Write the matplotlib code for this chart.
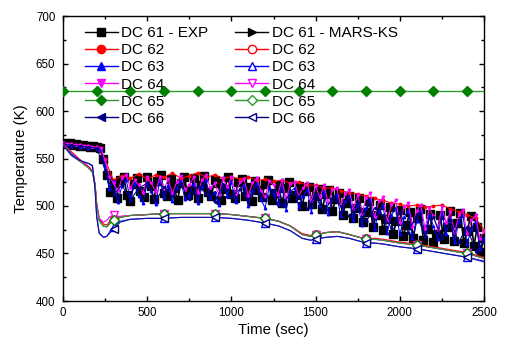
import numpy as np
import matplotlib
matplotlib.use("Agg")
import matplotlib.pyplot as plt
from matplotlib.lines import Line2D
from matplotlib.ticker import MultipleLocator

plt.rcParams['font.family'] = ['Liberation Sans', 'DejaVu Sans']

# ---------------- data ----------------
# Experimental series (EXP), evenly sampled over 0-2500 s
dc61_exp = [566, 565, 566, 564, 565, 563, 564, 563, 562, 563, 562, 561,
            550, 533, 515, 524, 508, 527, 531, 512, 505, 523,
            529, 516, 509, 530, 521, 507, 526, 533, 514, 511,
            528, 519, 506, 524, 531, 512, 517, 529, 508, 522,
            532, 515, 510, 527, 524, 506, 518, 530, 513, 508,
            525, 528, 511, 520, 505, 526, 517, 509, 523, 527,
            506, 514, 522, 503, 519, 525, 508, 512, 521, 500,
            516, 520, 502, 510, 518, 497, 513, 517, 495, 507,
            514, 491, 503, 511, 487, 498, 508, 483, 494, 505,
            478, 490, 501, 475, 486, 499, 470, 484, 496, 468,
            480, 494, 466, 487, 497, 464, 476, 492, 462, 470,
            490, 465, 478, 495, 463, 482, 493, 461, 474, 489,
            458, 478, 452, 466]

dc62_exp = [566, 565, 564, 563, 562,
            549, 527, 532, 529, 534, 528, 533, 530, 535, 529,
            532, 535, 530, 533, 529, 531, 528, 531, 527, 528,
            526, 527, 524, 525, 522, 522, 519, 519, 516, 514,
            513, 510, 508, 506, 503, 502, 500, 501, 499, 500,
            501, 497, 494, 491, 487, 475]

dc63_exp = [564, 565, 563, 564, 562, 563, 561, 562, 560, 559,
            542, 518, 526, 504, 521, 528, 506, 524, 510, 503,
            525, 516, 502, 527, 509, 522, 505, 519, 526, 507,
            512, 524, 503, 520, 527, 508, 515, 501, 523, 511,
            525, 504, 518, 522, 500, 516, 524, 507, 498, 520,
            513, 502, 521, 496, 515, 519, 499, 510, 517, 494,
            513, 500, 516, 492, 508, 512, 489, 505, 510, 485,
            503, 480, 498, 507, 476, 495, 501, 472, 490, 498,
            470, 488, 495, 466, 484, 496, 468, 491, 479, 465,
            493, 471, 487, 462, 483, 490, 460, 476, 484, 455,
            466]

dc64_exp = [566, 565, 565, 564, 564, 563, 563, 562, 562, 561,
            548, 531, 524, 516, 529, 533, 519, 527, 522, 514,
            530, 524, 515, 531, 518, 528, 513, 525, 532, 517,
            522, 530, 514, 527, 533, 519, 524, 512, 529, 520,
            530, 513, 525, 528, 511, 524, 529, 516, 509, 526,
            522, 512, 527, 508, 523, 525, 510, 519, 524, 505,
            521, 509, 522, 503, 517, 519, 500, 513, 517, 497,
            512, 492, 508, 514, 488, 505, 509, 484, 501, 506,
            482, 499, 503, 478, 495, 501, 476, 498, 489, 475,
            499, 482, 494, 472, 490, 496, 470, 485, 490, 465,
            474]

dc65_exp_t = [0, 200, 400, 600, 800, 1000, 1200, 1400, 1600, 1800, 2000, 2200, 2400, 2500]
dc65_exp = [621, 621, 621, 621, 621, 621, 621, 621, 621, 621, 621, 621, 621, 621]

dc66_exp = [565, 564, 563, 562, 561,
            538, 512, 522, 506, 519, 524, 505, 520, 510, 523,
            507, 521, 513, 504, 522, 509, 518, 503, 520, 506,
            517, 500, 514, 510, 497, 512, 494, 508, 500, 489,
            504, 484, 498, 490, 477, 494, 472, 491, 468, 488,
            466, 485, 462, 478, 452, 462]

# MARS-KS calculations
t_mars = [0, 50, 100, 150, 175, 190, 200, 215, 240, 260,
          280, 300, 340, 400, 500, 600, 700, 800, 900, 1000,
          1100, 1200, 1280, 1350, 1420, 1470, 1500, 1560, 1630, 1700,
          1760, 1800, 1850, 1900, 2000, 2100, 2200, 2300, 2400, 2500]
dc61_mars = [565, 556, 548, 541, 536, 523, 501, 485, 479, 478,
             482, 485, 488, 490, 491, 492, 492, 492, 492, 491,
             489, 487, 484, 479, 470, 468, 469, 472, 473, 470,
             467, 465, 465, 464, 461, 459, 456, 453, 450, 445]
dc62_mars = [565, 557, 549, 542, 537, 524, 503, 487, 481, 480,
             484, 486, 489, 490, 491, 492, 492, 492, 492, 491,
             489, 487, 484, 479, 471, 469, 470, 472, 473, 470,
             467, 466, 466, 465, 462, 460, 457, 454, 451, 446]
dc63_mars = [564, 553, 547, 545, 543, 520, 490, 472, 467, 468,
             474, 478, 484, 486, 487, 487, 488, 488, 488, 487,
             485, 482, 479, 474, 466, 464, 465, 467, 468, 466,
             463, 461, 461, 460, 457, 455, 452, 449, 446, 441]
dc64_mars = [565, 556, 548, 541, 536, 523, 502, 487, 483, 485,
             489, 490, 489, 490, 491, 492, 492, 492, 492, 491,
             489, 487, 484, 479, 470, 468, 469, 472, 473, 470,
             467, 465, 465, 464, 461, 459, 456, 453, 450, 445]
dc65_mars = [564, 555, 547, 540, 535, 522, 500, 484, 479, 478,
             482, 485, 488, 490, 491, 492, 492, 492, 492, 491,
             489, 487, 484, 479, 470, 468, 469, 472, 473, 470,
             467, 465, 465, 464, 461, 459, 456, 453, 450, 445]
dc66_mars = [564, 554, 548, 545, 542, 518, 488, 471, 467, 468,
             472, 476, 483, 486, 487, 487, 488, 488, 488, 487,
             485, 482, 479, 474, 466, 464, 465, 467, 468, 466,
             463, 461, 461, 460, 457, 455, 452, 449, 446, 442]

marker_times = [300, 600, 900, 1200, 1500, 1800, 2100, 2400]

x_ticks = [0, 500, 1000, 1500, 2000, 2500]
y_ticks = [400, 450, 500, 550, 600, 650, 700]

# ---------------- figure ----------------
fig = plt.figure(figsize=(5.05, 3.42), dpi=100)
ax = fig.add_axes([63/505, 41/342, 421/505, 285/342])

def tgrid(vals):
    return np.linspace(0, 2500, len(vals))

mk_idx = [t_mars.index(t) for t in marker_times]

# EXP series
ax.plot(tgrid(dc61_exp), dc61_exp, color='black', lw=1.2, marker='s', ms=5.5,
        mfc='black', mec='black', zorder=2)
ax.plot(tgrid(dc62_exp), dc62_exp, color='red', lw=0.75, marker='o', ms=1.8,
        mfc='red', mec='red', zorder=3)
ax.plot(tgrid(dc63_exp), dc63_exp, color='blue', lw=0.75, marker='^', ms=1.8,
        mfc='blue', mec='blue', zorder=3)
ax.plot(tgrid(dc64_exp), dc64_exp, color='magenta', lw=0.75, marker='v', ms=1.8,
        mfc='magenta', mec='magenta', zorder=3)
ax.plot(dc65_exp_t, dc65_exp, color='#2e9a2e', lw=1.0, marker='D', ms=5,
        mfc='#008000', mec='#008000', markevery=list(range(13)), zorder=3)
ax.plot(tgrid(dc66_exp), dc66_exp, color='#000080', lw=0.75, marker='<', ms=1.8,
        mfc='#000080', mec='#000080', zorder=3)

# MARS-KS series
ax.plot(t_mars, dc61_mars, color='#444444', lw=0.9, zorder=4)
ax.plot(t_mars, dc62_mars, color='red', lw=0.8, marker='o', ms=5.5, mfc='white',
        mec='red', markevery=mk_idx, zorder=4)
ax.plot(t_mars, dc63_mars, color='#3030ff', lw=0.8, marker='^', ms=6, mfc='white',
        mec='blue', markevery=mk_idx, zorder=4)
ax.plot(t_mars, dc64_mars, color='magenta', lw=0.8, marker='v', ms=6, mfc='white',
        mec='magenta', markevery=mk_idx, zorder=4)
ax.plot(t_mars, dc65_mars, color='#2e9a2e', lw=0.8, marker='D', ms=5, mfc='white',
        mec='#008000', markevery=mk_idx, zorder=4)
ax.plot(t_mars, dc66_mars, color='#1010a0', lw=0.8, marker='<', ms=6, mfc='white',
        mec='#000080', markevery=mk_idx, zorder=4)

# axes
ax.set_xlim(0, 2500)
ax.set_ylim(400, 700)
ax.set_xticks(x_ticks)
ax.set_yticks(y_ticks)
ax.xaxis.set_minor_locator(MultipleLocator(250))
ax.yaxis.set_minor_locator(MultipleLocator(25))
ax.tick_params(which='both', direction='in', top=True, right=True, width=1.0)
ax.tick_params(which='major', length=3.6, labelsize=8.3)
ax.tick_params(axis='x', which='major', pad=4)
ax.tick_params(axis='y', which='major', pad=5.5)
ax.tick_params(which='minor', length=2.2)
for s in ax.spines.values():
    s.set_linewidth(1.0)
ax.set_xlabel('Time (sec)', fontsize=10.8, labelpad=3)
ax.set_ylabel('Temperature (K)', fontsize=10.8, labelpad=6)

# legend
def h(color, marker, filled, ms=6):
    return Line2D([0], [0], color=color, lw=1.0, marker=marker, ms=ms,
                  mfc=color if filled else 'white', mec=color)

handles = [
    h('black', 's', True), h('red', 'o', True), h('blue', '^', True),
    h('magenta', 'v', True), h('#2e9a2e', 'D', True, 5.5), h('#000080', '<', True),
    h('black', '>', True), h('red', 'o', False), h('blue', '^', False),
    h('magenta', 'v', False), h('#2e9a2e', 'D', False, 5.5), h('#000080', '<', False),
]
handles[4].set_markerfacecolor('#008000')
handles[4].set_markeredgecolor('#008000')
labels = ['DC 61 - EXP', 'DC 62', 'DC 63', 'DC 64', 'DC 65', 'DC 66',
          'DC 61 - MARS-KS', 'DC 62', 'DC 63', 'DC 64', 'DC 65', 'DC 66']
leg = ax.legend(handles, labels, ncol=2, frameon=False, loc='upper left',
                bbox_to_anchor=(0.037, 0.985), fontsize=11, handlelength=2.15,
                handletextpad=0.25, labelspacing=0.2, columnspacing=1.75,
                borderaxespad=0.0)
leg.set_zorder(10)

fig.savefig('out.png', dpi=100)
